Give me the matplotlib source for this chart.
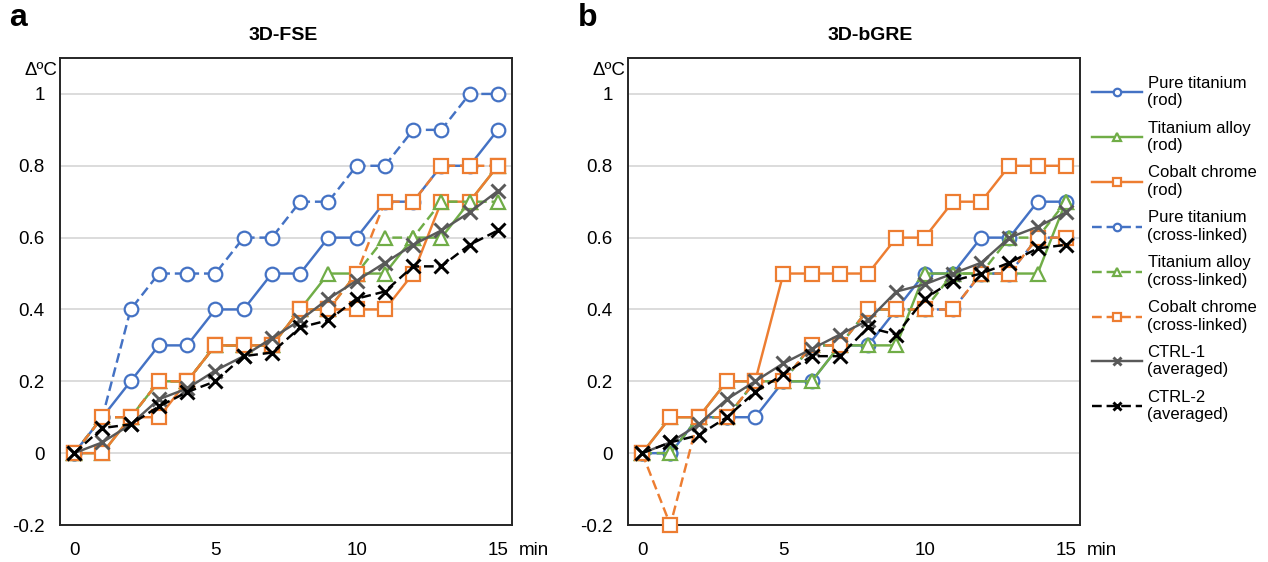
import matplotlib
matplotlib.use("Agg")
import matplotlib.pyplot as plt

plt.rcParams['font.family'] = ['Liberation Sans', 'DejaVu Sans']

minutes = list(range(16))
series_labels = [
    "Pure titanium\n(rod)", "Titanium alloy\n(rod)", "Cobalt chrome\n(rod)",
    "Pure titanium\n(cross-linked)", "Titanium alloy\n(cross-linked)",
    "Cobalt chrome\n(cross-linked)", "CTRL-1\n(averaged)", "CTRL-2\n(averaged)",
]
y_ticks = [-0.2, 0, 0.2, 0.4, 0.6, 0.8, 1]
y_tick_labels = ["-0.2", "0", "0.2", "0.4", "0.6", "0.8", "1"]
x_ticks = [0, 5, 10, 15]
panel_titles = ["3D-FSE", "3D-bGRE"]
panel_letters = ["a", "b"]

# Panel a: 3D-FSE
fse_ti_rod   = [0, 0.1, 0.2, 0.3, 0.3, 0.4, 0.4, 0.5, 0.5, 0.6, 0.6, 0.7, 0.7, 0.8, 0.8, 0.9]
fse_tia_rod  = [0, 0, 0.1, 0.2, 0.2, 0.3, 0.3, 0.3, 0.4, 0.5, 0.5, 0.5, 0.6, 0.6, 0.7, 0.8]
fse_coc_rod  = [0, 0, 0.1, 0.1, 0.2, 0.3, 0.3, 0.3, 0.4, 0.4, 0.4, 0.4, 0.5, 0.7, 0.7, 0.8]
fse_ti_cl    = [0, 0.1, 0.4, 0.5, 0.5, 0.5, 0.6, 0.6, 0.7, 0.7, 0.8, 0.8, 0.9, 0.9, 1.0, 1.0]
fse_tia_cl   = [0, 0.1, 0.1, 0.2, 0.2, 0.3, 0.3, 0.3, 0.4, 0.4, 0.5, 0.6, 0.6, 0.7, 0.7, 0.7]
fse_coc_cl   = [0, 0.1, 0.1, 0.2, 0.2, 0.3, 0.3, 0.3, 0.4, 0.4, 0.5, 0.7, 0.7, 0.8, 0.8, 0.8]
fse_ctrl1    = [0, 0.03, 0.08, 0.15, 0.18, 0.23, 0.27, 0.32, 0.37, 0.43, 0.48, 0.53, 0.58, 0.62, 0.67, 0.73]
fse_ctrl2    = [0, 0.07, 0.08, 0.13, 0.17, 0.20, 0.27, 0.28, 0.35, 0.37, 0.43, 0.45, 0.52, 0.52, 0.58, 0.62]

# Panel b: 3D-bGRE
gre_ti_rod   = [0, 0, 0.1, 0.1, 0.1, 0.2, 0.2, 0.3, 0.3, 0.4, 0.5, 0.5, 0.6, 0.6, 0.7, 0.7]
gre_tia_rod  = [0, 0.1, 0.1, 0.2, 0.2, 0.2, 0.2, 0.3, 0.3, 0.3, 0.5, 0.5, 0.5, 0.5, 0.5, 0.7]
gre_coc_rod  = [0, 0.1, 0.1, 0.2, 0.2, 0.5, 0.5, 0.5, 0.5, 0.6, 0.6, 0.7, 0.7, 0.8, 0.8, 0.8]
gre_ti_cl    = [0, 0, 0.1, 0.1, 0.2, 0.2, 0.3, 0.3, 0.4, 0.4, 0.4, 0.4, 0.5, 0.5, 0.6, 0.6]
gre_tia_cl   = [0, 0, 0.1, 0.1, 0.2, 0.2, 0.3, 0.3, 0.4, 0.4, 0.4, 0.5, 0.5, 0.6, 0.6, 0.7]
gre_coc_cl   = [0, -0.2, 0.1, 0.1, 0.2, 0.2, 0.3, 0.3, 0.4, 0.4, 0.4, 0.4, 0.5, 0.5, 0.6, 0.6]
gre_ctrl1    = [0, 0.03, 0.08, 0.15, 0.20, 0.25, 0.29, 0.33, 0.37, 0.45, 0.47, 0.50, 0.53, 0.60, 0.63, 0.67]
gre_ctrl2    = [0, 0.03, 0.05, 0.10, 0.17, 0.22, 0.27, 0.27, 0.35, 0.33, 0.43, 0.48, 0.50, 0.53, 0.57, 0.58]

panel_data = [
    [fse_ti_rod, fse_tia_rod, fse_coc_rod, fse_ti_cl, fse_tia_cl, fse_coc_cl, fse_ctrl1, fse_ctrl2],
    [gre_ti_rod, gre_tia_rod, gre_coc_rod, gre_ti_cl, gre_tia_cl, gre_coc_cl, gre_ctrl1, gre_ctrl2],
]

BLUE, GREEN, ORANGE, GRAY, BLACK = "#4472C4", "#70AD47", "#ED7D31", "#595959", "#000000"
DASH = (0, (4.0, 2.0))
styles = [
    dict(color=BLUE, marker="o", ls="-"),
    dict(color=GREEN, marker="^", ls="-"),
    dict(color=ORANGE, marker="s", ls="-"),
    dict(color=BLUE, marker="o", ls=DASH),
    dict(color=GREEN, marker="^", ls=DASH),
    dict(color=ORANGE, marker="s", ls=DASH),
    dict(color=GRAY, marker="x", ls="-"),
    dict(color=BLACK, marker="x", ls=DASH),
]
marker_sizes = {"o": 9.8, "^": 9.5, "s": 9.5, "x": 9.5}

W, H = 1268, 562
fig = plt.figure(figsize=(W / 100, H / 100), dpi=100)

axes_px = [(60, 58, 512, 525), (628, 58, 1080, 525)]
handles = []
for p, (l, t, r, b) in enumerate(axes_px):
    ax = fig.add_axes([l / W, 1 - b / H, (r - l) / W, (b - t) / H])
    for i, ys in enumerate(panel_data[p]):
        st = styles[i]
        is_x = st["marker"] == "x"
        ln, = ax.plot(minutes, ys, color=st["color"], ls=st["ls"], lw=1.75,
                      marker=st["marker"], markersize=marker_sizes[st["marker"]],
                      markerfacecolor=(st["color"] if is_x else "white"),
                      markeredgecolor=st["color"],
                      markeredgewidth=(2.1 if is_x else 1.6),
                      zorder=3 + i, label=series_labels[i], clip_on=False)
        if p == 1:
            handles.append(ln)
    ax.set_xlim(-0.5, 15.5)
    ax.set_ylim(-0.2, 1.1)
    ax.set_yticks(y_ticks)
    ax.set_yticklabels(y_tick_labels)
    ax.set_xticks(x_ticks)
    ax.tick_params(length=0, labelsize=13.5)
    ax.tick_params(axis="x", pad=12)
    ax.tick_params(axis="y", pad=11)
    ax.grid(axis="y", color="#D9D9D9", lw=1.3, zorder=0)
    ax.set_axisbelow(True)
    for s in ax.spines.values():
        s.set_color("#262626")
        s.set_linewidth(1.4)
    ax.annotate("min", xy=(1, 0), xycoords="axes fraction", xytext=(16, -12),
                textcoords="offset points", ha="center", va="top", fontsize=13.5)
    ax.annotate("Δ\u00baC", xy=(0, 1.065), xycoords=("axes fraction", "data"),
                xytext=(-2, 0), textcoords="offset points", ha="right", va="center",
                fontsize=13.5, annotation_clip=False)
    cx = (l + r) / 2 - 3 if p == 0 else 870
    fig.text(cx / W, 1 - 36 / H, panel_titles[p], ha="center", va="center",
             fontsize=14, fontweight="bold")
    fig.text((9 if p == 0 else 578) / W, 1 - 18 / H, panel_letters[p],
             ha="left", va="center", fontsize=23, fontweight="bold")

leg = fig.legend(handles=handles, loc="upper left",
                 bbox_to_anchor=(1085 / W, 1 - 69 / H), frameon=False,
                 fontsize=12, handlelength=3.0, handletextpad=0.35,
                 labelspacing=0.75, markerscale=0.55, borderaxespad=0)

fig.savefig("out.png", dpi=100)
